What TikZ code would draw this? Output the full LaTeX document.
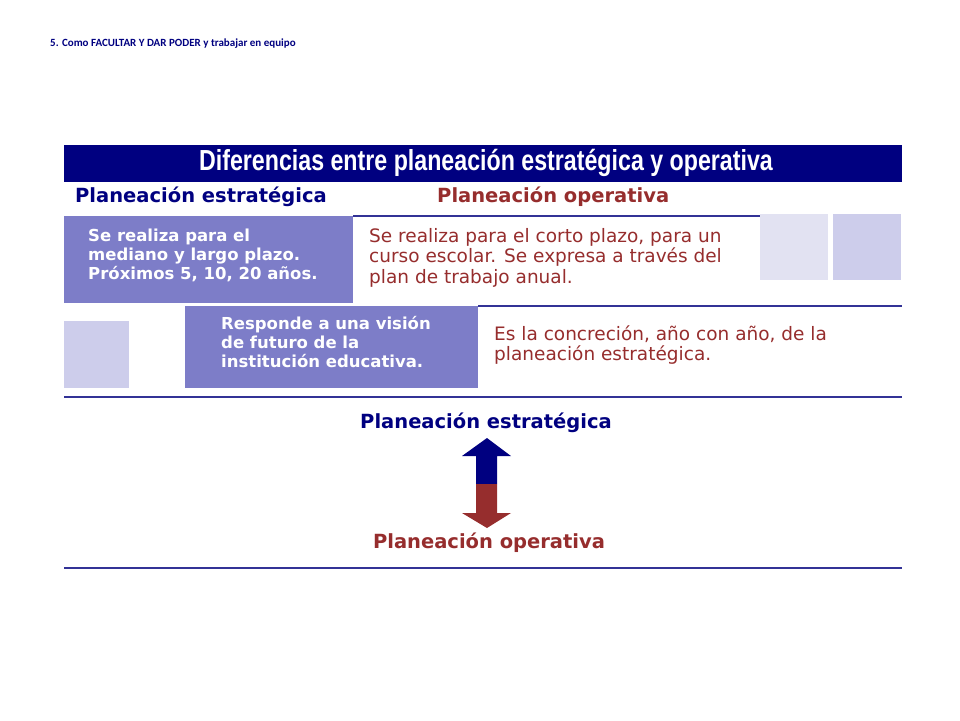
\documentclass[tikz,border=0pt]{standalone}
\usepackage{fontspec}
\setmainfont{DejaVu Sans}
\newfontfamily\carlitofnt{Carlito}
\newfontfamily\titlefnt{Liberation Sans}
\definecolor{navy}{RGB}{0,0,128}
\definecolor{dred}{RGB}{150,45,45}
\definecolor{purp}{RGB}{125,125,200}
\definecolor{lsq}{RGB}{226,226,242}
\definecolor{msq}{RGB}{205,205,235}
\definecolor{lin}{RGB}{50,50,150}
\begin{document}
\begin{tikzpicture}[x=1pt,y=-1pt,
  hdr/.style={font=\fontsize{19.5}{22}\selectfont\bfseries,inner sep=0},
  wtxt/.style={font=\fontsize{16.5}{19}\selectfont\bfseries,text=white,align=left,anchor=north west,inner sep=0},
  rtxt/.style={font=\fontsize{18.5}{20.5}\selectfont,text=dred,align=left,anchor=north west,inner sep=0},
  rule/.style={draw=lin,line width=1.5pt}]
\useasboundingbox (0,0) rectangle (960,720);
\node[anchor=west,inner sep=0,text=navy,font=\carlitofnt\bfseries\fontsize{11}{12}\selectfont] (cap) at (50,44) {5. Como FACULTAR Y DAR PODER y trabajar en equipo};
\fill[navy] (64,145) rectangle (902,182);
\node[inner sep=0,text=white,font=\titlefnt\bfseries\fontsize{29}{30}\selectfont,xscale=0.8,transform shape] (ttl) at (486,163) {Diferencias entre planeación estratégica y operativa};
\node[hdr,text=navy,anchor=west] (h1) at (75,197) {Planeación estratégica};
\node[hdr,text=dred,anchor=west] (h2) at (437,197) {Planeación operativa};
\fill[purp] (64,216) rectangle (353,303);
\draw[lin,line width=1.2pt] (353,216) -- (760,216);
\fill[lsq] (760,214) rectangle (828,280);
\fill[msq] (833,214) rectangle (901,280);
\node[wtxt] (t1) at (88,229) {Se realiza para el\\mediano y largo plazo.\\Próximos 5, 10, 20 años.};
\node[rtxt] (t2) at (369,228) {Se realiza para el corto plazo, para un\\curso escolar. Se expresa a través del\\plan de trabajo anual.};
\draw[lin,line width=1.2pt] (478,306) -- (902,306);
\fill[msq] (64,321) rectangle (129,388);
\fill[purp] (185,306) rectangle (478,388);
\node[wtxt] (t3) at (221,316) {Responde a una visión\\de futuro de la\\institución educativa.};
\node[rtxt] (t4) at (494,325) {Es la concreción, año con año, de la\\planeación estratégica.};
\draw[rule] (64,397) -- (902,397);
\node[hdr,text=navy] (p1) at (486,423) {Planeación estratégica};
\fill[navy] (487,438) -- (511,456) -- (497,456) -- (497,484) -- (476,484) -- (476,456) -- (462,456) -- cycle;
\fill[dred] (476,484) -- (497,484) -- (497,513) -- (511,513) -- (487,528) -- (462,513) -- (476,513) -- cycle;
\node[hdr,text=dred] (p2) at (489,543) {Planeación operativa};
\draw[rule] (64,568) -- (902,568);
\end{tikzpicture}
\end{document}
